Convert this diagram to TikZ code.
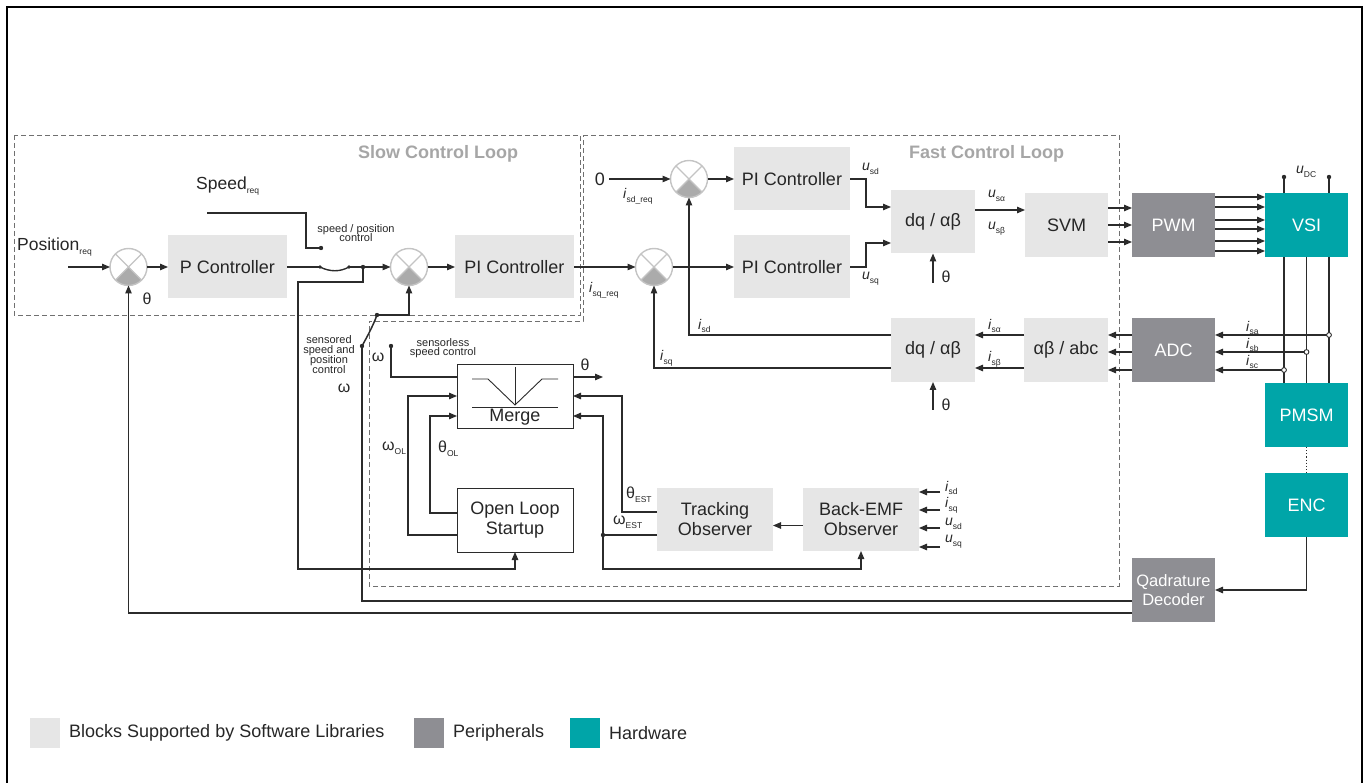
\documentclass[tikz,border=0pt]{standalone}
\usepackage{fontspec}
\setmainfont{Liberation Sans}
\usetikzlibrary{arrows.meta,calc}
\definecolor{softc}{HTML}{E6E6E6}
\definecolor{peric}{HTML}{8E8E93}
\definecolor{hwc}{HTML}{00A5A8}
\definecolor{lnc}{HTML}{2B2B2B}
\definecolor{dashc}{HTML}{707070}
\definecolor{loopc}{HTML}{A6A6A6}
\definecolor{sumedge}{HTML}{C4C4C4}
\definecolor{sumfillc}{HTML}{ABABAB}
\newcommand{\sbs}[1]{\raisebox{-0.5ex}{\fontsize{8.5}{9}\selectfont #1}}
\newcommand{\SumJ}[3]{%
  \node[sumc] (#1) at (#2,#3) {};
  \begin{scope}
    \clip (#2,#3) circle[radius=18.5];
    \fill[sumfillc] (#2,#3) -- ++(-30,30) -- ++(60,0) -- cycle;
  \end{scope}
  \draw[sumedge, line width=1.2pt] (#1.45) -- (#1.-135) (#1.135) -- (#1.-45);
  \draw[sumedge, line width=1.4pt] (#2,#3) circle[radius=18.5];
}
\tikzset{
  big/.style={font=\fontsize{18}{20}\selectfont},
  blk/.style={big, minimum width=#1, minimum height=63, inner sep=0, outer sep=0, align=center, text=black!85},
  swblk/.style={blk=#1, fill=softc},
  swblk/.default=116,
  perblk/.style={blk=83, fill=peric, text=white, minimum height=64},
  hwblk/.style={blk=83, fill=hwc, text=white, minimum height=64},
  wblk/.style={blk=116, fill=white, draw=lnc, line width=0.9pt, minimum height=64},
  sumc/.style={circle, minimum size=37, inner sep=0, outer sep=0, fill=white},
  ln/.style={draw=lnc, line width=1.15pt},
  arr/.style={ln, -{Triangle[length=8pt,width=6.5pt]}},
  dotn/.style={fill=lnc},
  lab/.style={inner sep=0, font=\fontsize{14}{16}\selectfont, text=black!85},
  glab/.style={inner sep=0, font=\fontsize{16}{18}\selectfont, text=black!85},
  tiny/.style={inner sep=0, font=\fontsize{11}{11}\selectfont, align=center, text=black!85},
  looplab/.style={inner sep=0, font=\fontsize{18}{20}\selectfont\bfseries, text=loopc},
  loopbox/.style={draw=dashc, line width=0.8pt, dash pattern=on 5pt off 3pt},
  legtxt/.style={anchor=west, inner sep=0, font=\fontsize{18}{20}\selectfont, text=black!85},
}
\begin{document}
\begin{tikzpicture}[x=1pt,y=-1pt]
\useasboundingbox (0,0) rectangle (1369,783);
% outer frame
\draw[black, line width=2pt] (7,783) -- (7,7) -- (1362,7) -- (1362,783);

% loop boxes
\draw[loopbox] (14,135) rectangle (580,315);
\draw[loopbox] (583,135) -- (1119,135) -- (1119,586) -- (369,586) -- (369,321) -- (583,321) -- cycle;
\node[looplab, anchor=west] (slowlab) at (358,154) {Slow Control Loop};
\node[looplab, anchor=west] (fastlab) at (909,154) {Fast Control Loop};

% blocks
\node[swblk=119] (pc) at (227.5,267) {P Controller};
\node[swblk=119] (pis) at (514.5,267) {PI Controller};
\node[swblk] (pit) at (792,179) {PI Controller};
\node[swblk] (pib) at (792,267) {PI Controller};
\node[swblk=84] (dqt) at (933,222) {dq / αβ};
\node[swblk=83, minimum height=64] (svm) at (1066.5,225) {SVM};
\node[perblk] (pwm) at (1173.5,225) {PWM};
\node[hwblk] (vsi) at (1306.5,225) {VSI};
\node[perblk] (adc) at (1173.5,350) {ADC};
\node[swblk=84, minimum height=64] (dqb) at (933,350) {dq / αβ};
\node[swblk=84, minimum height=64] (abc) at (1066,350) {αβ / abc};
\node[hwblk] (pmsm) at (1306.5,415) {PMSM};
\node[hwblk] (enc) at (1306.5,505) {ENC};
\node[perblk, font=\fontsize{16.5}{19}\selectfont] (dec) at (1173.5,590) {Qadrature\\Decoder};
\node[wblk] (mrg) at (515,396) {};
\node[wblk] (ols) at (515,520) {Open Loop\\Startup};
\node[swblk] (trk) at (715,519.5) {Tracking\\Observer};
\node[swblk] (bemf) at (861,519.5) {Back-EMF\\Observer};

% merge symbol
\draw[lnc, line width=0.9pt] (472,379) -- (488,379) -- (515,405) -- (542,379) -- (558,379);
\draw[lnc, line width=0.9pt] (515,367) -- (515,405);
\draw[lnc, line width=0.9pt] (472,407) -- (558,407);
\node[big, inner sep=0, text=black!85] (mrgtxt) at (515,417) {Merge};

% summing junctions
\SumJ{s1}{128.5}{267}
\SumJ{s2}{409}{267}
\SumJ{s3}{689}{179}
\SumJ{s4}{654}{267}

% ---------- slow loop ----------
\node[anchor=west, inner sep=0, font=\fontsize{17.5}{19}\selectfont, text=black!85] (posreq) at (17,247) {Position\sbs{req}};
\coordinate (posin) at (68,267);
\draw[arr] (posin) -- (s1);
\draw[arr] (s1) -- (pc);
\coordinate (swA) at (320,267);
\coordinate (swB) at (349,267);
\coordinate (jw) at (363,267);
\draw[ln] (pc.east) -- (swA);
\draw[ln, line width=1.4pt] (swA) .. controls (330,272) and (340,272) .. (swB);
\draw[arr] (swB) -- (s2);
\fill[dotn] (swA) circle[radius=1.8];
\fill[dotn] (swB) circle[radius=1.8];
\fill[dotn] (jw) circle[radius=2.2];
\node[anchor=west, inner sep=0, font=\fontsize{17.5}{19}\selectfont, text=black!85] (spdreq) at (196,186) {Speed\sbs{req}};
\coordinate (spd0) at (207,213);
\coordinate (swC) at (321,248);
\draw[ln] (spd0) -- (306,213) -- (306,248) -- (swC);
\fill[dotn] (swC) circle[radius=2.2];
\node[tiny] (sptxt) at (356,233) {speed / position\\[-2pt]control};
\draw[arr] (jw) -- (363,282) -- (298,282) -- (298,569) -| (ols.south);
\draw[arr] (s2) -- (pis);
\draw[arr] (pis) -- (s4);
\node[glab] (th1) at (147,299) {θ};
% sensored switch
\coordinate (snA) at (377,315);
\coordinate (snB) at (362,346);
\draw[arr] (snA) -| (s2.south);
\draw[ln, line width=1.5pt] (snA) .. controls (373,326) and (367,337) .. (snB);
\fill[dotn] (snA) circle[radius=2.2];
\fill[dotn] (snB) circle[radius=2.2];
\draw[ln] (snB) -- (362,601) -- ($(dec.west)+(0,11)$);
\node[tiny] (sentxt) at (329,355) {sensored\\[-1pt]speed and\\[-1pt]position\\[-1pt]control};
\node[glab] (w1) at (344,388) {ω};
\draw[arr] ($(dec.west)+(0,23)$) -| (s1.south);

% ---------- fast loop ----------
\node[big, inner sep=0, text=black!85] (zerotxt) at (600,179) {0};
\coordinate (zero) at (609,179);
\draw[arr] (zero) -- (s3);
\node[lab, anchor=west] (isdreq) at (623,196) {\textit{i}\sbs{sd\_req}};
\node[lab, anchor=west] (isqreq) at (589,290) {\textit{i}\sbs{sq\_req}};
\draw[arr] (s3) -- (pit);
\draw[arr] (s4) -- (pib);
\draw[arr] (pit.east) -- ++(16,0) |- ($(dqt.west)+(0,-15)$);
\draw[arr] (pib.east) -- ++(16,0) |- ($(dqt.west)+(0,21)$);
\node[lab, anchor=west] (usd) at (862,169) {\textit{u}\sbs{sd}};
\node[lab, anchor=west] (usq) at (862,279) {\textit{u}\sbs{sq}};
\draw[arr] ($(dqt.east)+(0,-12)$) -- ($(svm.west)+(0,-15)$);
\node[lab, anchor=west] (usa) at (988,196) {\textit{u}\sbs{sα}};
\node[lab, anchor=west] (usb) at (988,229) {\textit{u}\sbs{sβ}};
\coordinate (thA) at (933,283);
\draw[arr] (thA) -- (dqt.south);
\node[glab] (th2) at (946,277) {θ};
\foreach \dy in {-17,0,17} {
  \draw[arr] ($(svm.east)+(0,\dy)$) -- ($(pwm.west)+(0,\dy)$);
}
\foreach \dy in {-28,-18,-5,4,16,26} {
  \draw[arr] ($(pwm.east)+(0,\dy)$) -- ($(vsi.west)+(0,\dy)$);
}
% DC link
\coordinate (dcA) at (1284,177);
\coordinate (dcB) at (1329,177);
\draw[ln] (dcA) -- (dcA |- vsi.north);
\draw[ln] (dcB) -- (dcB |- vsi.north);
\fill[dotn] (dcA) circle[radius=2.2];
\fill[dotn] (dcB) circle[radius=2.2];
\node[lab, anchor=west] (udc) at (1296,172) {\textit{u}\sbs{DC}};
% phases
\draw[ln] (vsi.south -| dcA) -- (pmsm.north -| dcA);
\draw[ln] (vsi.south) -- (pmsm.north);
\draw[ln] (vsi.south -| dcB) -- (pmsm.north -| dcB);
\coordinate (cA) at (1329,335);
\coordinate (cB) at (1306.5,352);
\coordinate (cC) at (1284,370);
\foreach \c in {cA,cB,cC} {
  \draw[arr] (\c) -- (\c -| adc.east);
  \draw[arr] (adc.west |- \c) -- (abc.east |- \c);
  \draw[lnc, line width=0.9pt, fill=white] (\c) circle[radius=2.4];
}
\node[lab, anchor=west] (isa) at (1246,328) {\textit{i}\sbs{sa}};
\node[lab, anchor=west] (isb) at (1246,345) {\textit{i}\sbs{sb}};
\node[lab, anchor=west] (isc) at (1246,362) {\textit{i}\sbs{sc}};
\draw[ln, dotted, line width=1.2pt] (pmsm.south) -- (enc.north);
\draw[arr] (enc.south) |- (dec.east);
% current feedback
\draw[arr] ($(abc.west)+(0,-15)$) -- ($(dqb.east)+(0,-15)$);
\draw[arr] ($(abc.west)+(0,18)$) -- ($(dqb.east)+(0,18)$);
\node[lab, anchor=west] (isal) at (988,326) {\textit{i}\sbs{sα}};
\node[lab, anchor=west] (isbl) at (988,359) {\textit{i}\sbs{sβ}};
\draw[arr] ($(dqb.west)+(0,-15)$) -| (s3.south);
\draw[arr] ($(dqb.west)+(0,18)$) -| (s4.south);
\node[lab, anchor=west] (isdl) at (698,326) {\textit{i}\sbs{sd}};
\node[lab, anchor=west] (isql) at (660,358) {\textit{i}\sbs{sq}};
\coordinate (thB) at (933,410);
\draw[arr] (thB) -- (dqb.south);
\node[glab] (th3) at (946,405) {θ};

% ---------- sensorless part ----------
\coordinate (slA) at (391,346);
\draw[ln] (slA) |- ($(mrg.west)+(0,-19)$);
\fill[dotn] (slA) circle[radius=2.2];
\node[tiny] (sltxt) at (443,348) {sensorless\\[-2pt]speed control};
\node[glab] (w2) at (378,357) {ω};
\coordinate (thout) at (603,377);
\draw[arr] ($(mrg.east)+(0,-19)$) -- (thout);
\node[glab] (th4) at (585,365) {θ};
\draw[arr] ($(ols.west)+(0,15)$) -- ++(-49,0) |- (mrg.west);
\draw[arr] ($(ols.west)+(0,-7)$) -- ++(-27,0) |- ($(mrg.west)+(0,20)$);
\node[glab, anchor=west] (wol) at (382,448) {ω\sbs{OL}};
\node[glab, anchor=west] (thol) at (438,449) {θ\sbs{OL}};
\draw[arr] ($(trk.west)+(0,-7.5)$) -- ++(-35,0) |- (mrg.east);
\coordinate (wj) at (603,535);
\draw[ln] ($(trk.west)+(0,15.5)$) -- (wj);
\draw[arr] (wj) |- ($(mrg.east)+(0,20)$);
\draw[arr] (wj) -- (603,569) -| (bemf.south);
\fill[dotn] (wj) circle[radius=2.2];
\node[glab, anchor=west] (thest) at (626,495) {θ\sbs{EST}};
\node[glab, anchor=west] (west) at (613,522) {ω\sbs{EST}};
\draw[arr] ($(bemf.west)+(0,6)$) -- ($(trk.east)+(0,6)$);
\coordinate (bi1) at (940,492);
\coordinate (bi2) at (940,510);
\coordinate (bi3) at (940,528);
\coordinate (bi4) at (940,547);
\foreach \c in {bi1,bi2,bi3,bi4} {
  \draw[arr] (\c) -- (\c -| bemf.east);
}
\node[lab, anchor=west] (bl1) at (945,488) {\textit{i}\sbs{sd}};
\node[lab, anchor=west] (bl2) at (945,505) {\textit{i}\sbs{sq}};
\node[lab, anchor=west] (bl3) at (945,524) {\textit{u}\sbs{sd}};
\node[lab, anchor=west] (bl4) at (945,542) {\textit{u}\sbs{sq}};

% ---------- legend ----------
\fill[softc] (30,718) rectangle (60,748);
\node[legtxt] (lg1) at (69,733) {Blocks Supported by Software Libraries};
\fill[peric] (414,718) rectangle (444,748);
\node[legtxt] (lg2) at (453,733) {Peripherals};
\fill[hwc] (570,718) rectangle (600,748);
\node[legtxt] (lg3) at (609,733) {Hardware};
\end{tikzpicture}
\end{document}
